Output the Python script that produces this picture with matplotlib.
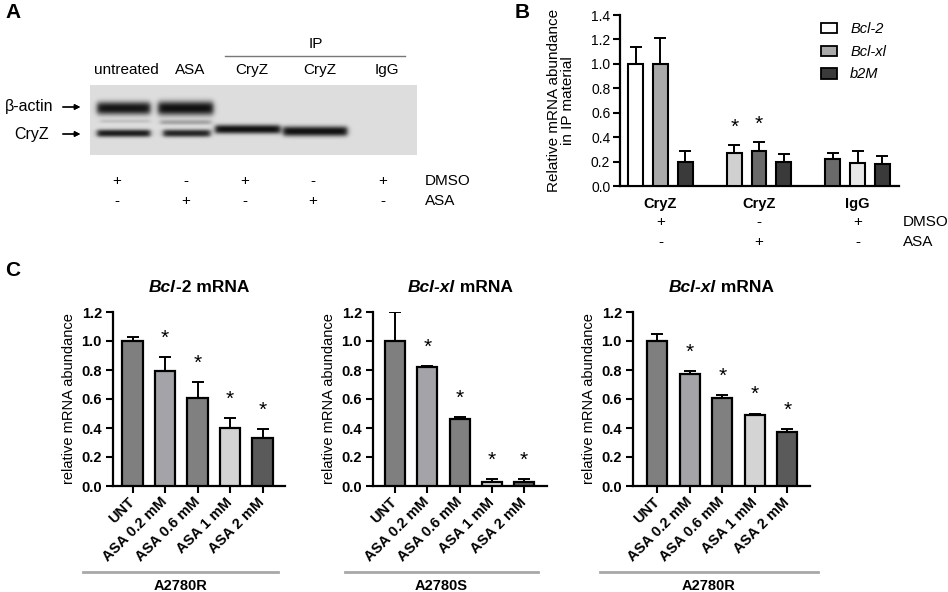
import numpy as np
import matplotlib
matplotlib.use("Agg")
import matplotlib.pyplot as plt
from matplotlib.lines import Line2D
from matplotlib.patches import Patch

plt.rcParams['font.family'] = ['Liberation Sans', 'DejaVu Sans']

W, H = 948, 592

# ---- panel A: western blot lanes ----
lane_labels = ["untreated", "ASA", "CryZ", "CryZ", "IgG"]
dmso_row_a = ["+", "-", "+", "-", "+"]
asa_row_a = ["-", "+", "-", "+", "-"]

# ---- panel B: IP material ----
b_groups = ["CryZ", "CryZ", "IgG"]
b_series = ["Bcl-2", "Bcl-xl", "b2M"]
b_bcl2 = [1.00, 0.27, 0.22]
b_bclxl = [1.00, 0.285, 0.19]
b_b2m = [0.20, 0.20, 0.18]
b_bcl2_err = [0.14, 0.065, 0.05]
b_bclxl_err = [0.21, 0.075, 0.10]
b_b2m_err = [0.09, 0.06, 0.065]
b_sig = [[False, True, False], [False, True, False], [False, False, False]]
dmso_row_b = ["+", "-", "+"]
asa_row_b = ["-", "+", "-"]

# ---- panel C: dose response ----
c_doses = ["UNT", "ASA 0.2 mM", "ASA 0.6 mM", "ASA 1 mM", "ASA 2 mM"]
c1_vals = [1.00, 0.79, 0.61, 0.40, 0.33]
c1_err = [0.03, 0.10, 0.11, 0.07, 0.06]
c2_vals = [1.00, 0.82, 0.46, 0.03, 0.03]
c2_err = [0.20, 0.01, 0.015, 0.015, 0.02]
c3_vals = [1.00, 0.77, 0.61, 0.49, 0.37]
c3_err = [0.05, 0.02, 0.02, 0.01, 0.02]
c_sig = [False, True, True, True, True]
c_cells = ["A2780R", "A2780S", "A2780R"]
c_genes = [("Bcl", "-2 mRNA"), ("Bcl-xl", " mRNA"), ("Bcl-xl", " mRNA")]


def fx(x):
    return x / W


def fy(y):
    return 1 - y / H


def add_ax(l, t, r, b):
    return fig.add_axes([fx(l), fy(b), (r - l) / W, (b - t) / H])


fig = plt.figure(figsize=(W / 100, H / 100), dpi=100)
renderer = fig.canvas.get_renderer()

# ================= A =================
fig.text(fx(5), fy(12), "A", fontsize=15, fontweight="bold", va="center")

blot = add_ax(90, 85, 417, 155)
xs = np.arange(90, 417, 0.5)
ys = np.arange(85, 155, 0.5)
X, Y = np.meshgrid(xs, ys)
img = np.full(X.shape, 0.87)
# band: x0, x1, y centre, half height, darkness
bands = [(97, 150, 108, 6.5, 0.78), (158, 213, 108, 7.0, 0.80),
         (100, 150, 121, 2.0, 0.10), (160, 211, 122, 2.5, 0.22),
         (97, 150, 133, 3.8, 0.75), (163, 210, 133, 3.8, 0.72),
         (215, 280, 129, 4.5, 0.80), (283, 347, 131, 5.0, 0.80)]
for x0, x1, yc, hh, d in bands:
    px = 1 / (1 + np.exp(-(X - x0) / 1.5)) / (1 + np.exp(-(x1 - X) / 1.5))
    py = np.exp(-np.abs((Y - yc) / hh) ** 2.5)
    img -= d * px * py
blot.imshow(img, cmap="gray", vmin=0, vmax=1, extent=(90, 417, 155, 85),
            aspect="auto", interpolation="bilinear")
blot.set_xlim(90, 417)
blot.set_ylim(155, 85)
blot.axis("off")

lane_x = [126, 190, 252, 320, 387]
for lx, lab in zip(lane_x, lane_labels):
    fig.text(fx(lx), fy(70), lab, fontsize=11, ha="center", va="center")
fig.text(fx(316), fy(44), "IP", fontsize=11, ha="center", va="center")
fig.add_artist(Line2D([fx(225), fx(405)], [fy(56), fy(56)], color="#777777", lw=1))

fig.text(fx(5), fy(107), "β-actin", fontsize=11.5, ha="left", va="center")
fig.text(fx(14), fy(134), "CryZ", fontsize=11.5, ha="left", va="center")
for y0, x0 in [(107, 60), (134, 60)]:
    fig.add_artist(plt.annotate("", xy=(fx(83), fy(y0)), xytext=(fx(x0), fy(y0)),
                                xycoords="figure fraction",
                                arrowprops=dict(arrowstyle="-|>", color="k", lw=0.9,
                                                mutation_scale=8)))

pm_x = [117, 186, 245, 313, 383]
for px_, d, a in zip(pm_x, dmso_row_a, asa_row_a):
    fig.text(fx(px_), fy(181), d, fontsize=11, ha="center", va="center")
    fig.text(fx(px_), fy(201), a, fontsize=11, ha="center", va="center")
fig.text(fx(425), fy(181), "DMSO", fontsize=11, va="center")
fig.text(fx(425), fy(201), "ASA", fontsize=11, va="center")

# ================= B =================
fig.text(fx(515), fy(12), "B", fontsize=15, fontweight="bold", va="center")
axb = add_ax(620, 15, 899, 186)
gx = np.arange(len(b_groups))
offs = [-0.25, 0.0, 0.25]
bw = 0.152
b_vals = [b_bcl2, b_bclxl, b_b2m]
b_errs = [b_bcl2_err, b_bclxl_err, b_b2m_err]
b_cols = [["#ffffff", "#d0d0d0", "#6a6a6a"],
          ["#a9a9a9", "#6a6a6a", "#e8e8e8"],
          ["#3a3a3a", "#3a3a3a", "#3a3a3a"]]
for i in range(3):
    axb.bar(gx + offs[i], b_vals[i], bw, color=b_cols[i], edgecolor="k", lw=1.5, zorder=3)
    axb.errorbar(gx + offs[i], b_vals[i], yerr=[np.zeros(3), b_errs[i]], fmt="none",
                 ecolor="k", elinewidth=1.4, capsize=4, capthick=1.4, zorder=2)
    for j in range(3):
        if b_sig[i][j]:
            axb.annotate("*", xy=(gx[j] + offs[i], b_vals[i][j] + b_errs[i][j]),
                         xytext=(0, 13), textcoords="offset points",
                         ha="center", va="center", fontsize=15)
axb.set_xlim(-0.41, 2.42)
axb.set_ylim(0, 1.4)
axb.set_yticks(np.arange(0, 1.41, 0.2))
axb.set_yticklabels([f"{v:.1f}" for v in np.arange(0, 1.41, 0.2)], fontsize=10)
axb.set_xticks(gx)
axb.set_xticklabels(b_groups, fontsize=10.5, fontweight="bold")
axb.tick_params(axis="x", length=0, pad=8)
axb.tick_params(axis="y", length=5, width=1.5, pad=2)
for s in ["top", "right"]:
    axb.spines[s].set_visible(False)
for s in ["left", "bottom"]:
    axb.spines[s].set_linewidth(1.6)
axb.set_ylabel("Relative mRNA abundance\nin IP material", fontsize=11, linespacing=1.0)
axb.yaxis.set_label_coords(-0.163, 0.5)
handles = [Patch(facecolor=c, edgecolor="k", lw=1.3) for c in ["#ffffff", "#a9a9a9", "#3a3a3a"]]
axb.legend(handles, b_series, loc="upper left", bbox_to_anchor=(fx(821), fy(22)),
           bbox_transform=fig.transFigure, frameon=False, prop=dict(size=10.5, style="italic"),
           handlelength=1.1, handleheight=0.7, handletextpad=0.9, labelspacing=0.6,
           borderpad=0, borderaxespad=0)
for j in range(3):
    axb.annotate(dmso_row_b[j], xy=(gx[j], fy(222)), xycoords=("data", "figure fraction"),
                 ha="center", va="center", fontsize=11)
    axb.annotate(asa_row_b[j], xy=(gx[j], fy(242)), xycoords=("data", "figure fraction"),
                 ha="center", va="center", fontsize=11)
fig.text(fx(903), fy(222), "DMSO", fontsize=11, va="center")
fig.text(fx(903), fy(242), "ASA", fontsize=11, va="center")

# ================= C =================
fig.text(fx(5), fy(270), "C", fontsize=15, fontweight="bold", va="center")
c_vals = [c1_vals, c2_vals, c3_vals]
c_errs = [c1_err, c2_err, c3_err]
c_cols = ["#7f7f7f", "#a3a3a8", "#808080", "#d4d4d4", "#5a5a5a"]
c_boxes = [(113, 285), (373, 547), (633, 810)]
c_xlim = [(-0.6, 4.69), (-0.68, 4.71), (-0.75, 4.7)]
c_lines = [(83, 278), (345, 538), (600, 818)]
cx = np.arange(len(c_doses))
for k in range(3):
    l, r = c_boxes[k]
    ax = add_ax(l, 312, r, 486)
    ax.bar(cx, c_vals[k], 0.62, color=c_cols, edgecolor="k", lw=1.6, zorder=3)
    ax.errorbar(cx, c_vals[k], yerr=[np.zeros(5), c_errs[k]], fmt="none",
                ecolor="k", elinewidth=1.4, capsize=4, capthick=1.4, zorder=2)
    for j in range(5):
        if c_sig[j]:
            ax.annotate("*", xy=(cx[j], c_vals[k][j] + c_errs[k][j]),
                        xytext=(0, 13.5), textcoords="offset points",
                        ha="center", va="center", fontsize=15)
    ax.set_xlim(*c_xlim[k])
    ax.set_ylim(0, 1.2)
    ax.set_yticks(np.arange(0, 1.21, 0.2))
    ax.set_yticklabels([f"{v:.1f}" for v in np.arange(0, 1.21, 0.2)],
                       fontsize=10.5, fontweight="bold")
    ax.set_xticks(cx)
    ax.set_xticklabels(c_doses, fontsize=10.5, fontweight="bold", rotation=45,
                       ha="right", va="center", rotation_mode="anchor")
    ax.tick_params(axis="both", length=5, width=1.5, pad=3)
    ax.tick_params(axis="x", pad=5)
    for s in ["top", "right"]:
        ax.spines[s].set_visible(False)
    for s in ["left", "bottom"]:
        ax.spines[s].set_linewidth(1.6)
    ax.set_ylabel("relative mRNA abundance", fontsize=10.5, labelpad=4)
    # title: italic gene name + bold rest, centred together over the axes
    mid = (l + r) / 2
    it, rest = c_genes[k]
    t1 = fig.text(0, fy(287), it, fontsize=12.5, fontweight="bold",
                  style="italic", ha="left", va="center")
    t2 = fig.text(0, fy(287), rest, fontsize=12.5, fontweight="bold",
                  ha="left", va="center")
    w1 = t1.get_window_extent(renderer).width
    w2 = t2.get_window_extent(renderer).width
    start = mid - (w1 + w2) / 2
    t1.set_x(fx(start))
    t2.set_x(fx(start + w1))
    x0, x1 = c_lines[k]
    fig.add_artist(Line2D([fx(x0), fx(x1)], [fy(572), fy(572)], color="#a8a8a8", lw=2))
    fig.text(fx((x0 + x1) / 2), fy(586), c_cells[k], fontsize=10.5, fontweight="bold",
             ha="center", va="center")

fig.savefig("out.png", dpi=100)
